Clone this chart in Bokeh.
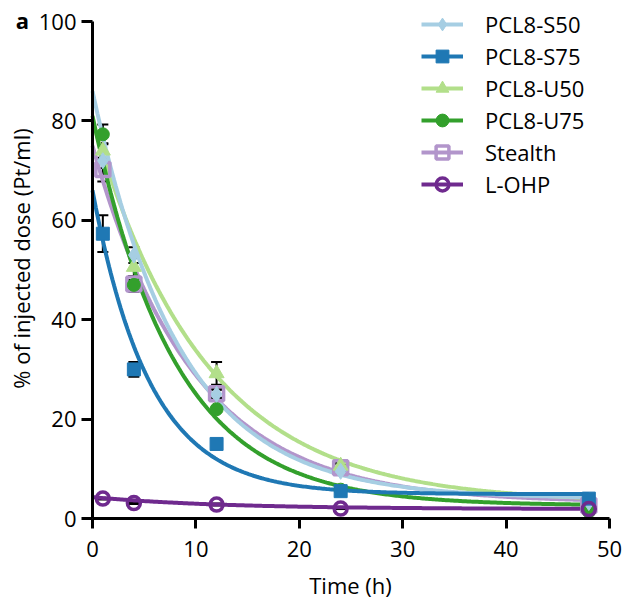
import numpy as np
from bokeh.plotting import figure
from bokeh.models import ColumnDataSource, Whisker, TeeHead, Legend, LegendItem, Label, Range1d, FixedTicker
from bokeh.embed import file_html
from bokeh.resources import INLINE

# ---- data ----
times = [1, 4, 12, 24, 48]
series_names = ["PCL8-S50", "PCL8-S75", "PCL8-U50", "PCL8-U75", "Stealth", "L-OHP"]

s50_mean = [72.0, 53.0, 25.0, 9.5, 3.2]
s50_err = [1.5, 1.6, 1.0, 0.6, 0.3]
s75_mean = [57.3, 30.0, 15.0, 5.5, 4.0]
s75_err = [3.7, 1.5, 0.5, 0.3, 0.3]
u50_mean = [74.0, 50.6, 29.2, 10.6, 3.0]
u50_err = [1.5, 1.8, 2.3, 0.6, 0.3]
u75_mean = [77.3, 47.0, 22.0, 5.8, 1.4]
u75_err = [2.0, 1.0, 0.5, 0.3, 0.2]
stealth_mean = [70.2, 47.2, 25.1, 10.2, 2.6]
stealth_err = [2.4, 1.6, 0.8, 0.8, 0.3]
lohp_mean = [4.0, 3.1, 2.8, 2.0, 1.9]
lohp_err = [0.2, 0.2, 0.2, 0.1, 0.1]

# one-phase exponential decay fit parameters
fit_y0 = [86.0, 66.0, 80.0, 81.0, 75.0, 4.3]
fit_plateau = [4.0, 4.9, 3.2, 2.6, 3.2, 1.9]
fit_k = [0.118, 0.18, 0.092, 0.125, 0.103, 0.08]

x_ticks = [0, 10, 20, 30, 40, 50]
y_ticks = [0, 20, 40, 60, 80, 100]
x_title = "Time (h)"
y_title = "% of injected dose (Pt/ml)"
panel_letter = "a"

means = [s50_mean, s75_mean, u50_mean, u75_mean, stealth_mean, lohp_mean]
errs = [s50_err, s75_err, u50_err, u75_err, stealth_err, lohp_err]

colors = ["#a6cee3", "#1f78b4", "#b2df8a", "#33a02c", "#b295cb", "#6f2a8e"]
markers = ["diamond", "square", "triangle", "circle", "square", "circle"]
sizes = [16, 13, 15, 13, 14, 13]
fills = [True, True, True, True, False, False]

FONT = "Open Sans"

# frame covers the whole canvas; axes are pinned at x=0 / y=0
W, H = 623, 600
X0PX, X50PX = 92.0, 609.0
Y0PX, Y100PX = 518.0, 21.0
sx = (X50PX - X0PX) / 50.0
sy = (Y0PX - Y100PX) / 100.0
x_lo, x_hi = -X0PX / sx, 50 + (W - X50PX) / sx
y_lo, y_hi = -(H - Y0PX) / sy, 100 + Y100PX / sy

p = figure(width=W, height=H, output_backend="svg", toolbar_location=None,
           x_range=Range1d(x_lo, x_hi), y_range=Range1d(y_lo, y_hi),
           min_border=0, min_border_left=0, min_border_right=0, min_border_top=0, min_border_bottom=0)
p.outline_line_color = None
p.xgrid.visible = False
p.ygrid.visible = False
p.background_fill_color = "white"
p.border_fill_color = "white"

for ax in (p.xaxis[0], p.yaxis[0]):
    ax.fixed_location = 0
    ax.axis_line_width = 3
    ax.axis_line_color = "black"
    ax.major_tick_line_width = 3
    ax.major_tick_in = 0
    ax.minor_tick_line_color = None
    ax.major_label_text_font = FONT
    ax.major_label_text_font_size = "22px"
    ax.major_label_text_color = "black"

p.xaxis[0].bounds = (0, 50)
p.yaxis[0].bounds = (0, 100)
p.xaxis[0].major_tick_out = 10
p.yaxis[0].major_tick_out = 11
p.xaxis[0].ticker = FixedTicker(ticks=x_ticks)
p.yaxis[0].ticker = FixedTicker(ticks=y_ticks)
p.xaxis[0].major_label_standoff = 12
p.yaxis[0].major_label_standoff = 5

xs = np.linspace(0, 48, 300)

# error bars first (under the markers)
for m, e in zip(means, errs):
    src = ColumnDataSource(dict(x=times, lo=[a - b for a, b in zip(m, e)], hi=[a + b for a, b in zip(m, e)]))
    w = Whisker(base="x", lower="lo", upper="hi", source=src, line_color="black", line_width=2,
                upper_head=TeeHead(size=11, line_color="black", line_width=2),
                lower_head=TeeHead(size=11, line_color="black", line_width=2))
    w.level = "underlay"
    p.add_layout(w)

draw_order = [4, 2, 3, 0, 1, 5]
line_r = {}
mark_r = {}
for i in draw_order:
    ys = fit_plateau[i] + (fit_y0[i] - fit_plateau[i]) * np.exp(-fit_k[i] * xs)
    line_r[i] = p.line(xs, ys, line_color=colors[i], line_width=4)
for i in draw_order:
    kw = dict(marker=markers[i], size=sizes[i], line_color=colors[i])
    if fills[i]:
        kw.update(fill_color=colors[i], line_width=1)
    else:
        kw.update(fill_color="white", fill_alpha=0.0, line_width=3.5)
    mark_r[i] = p.scatter(times, means[i], **kw)

items = [LegendItem(label=series_names[i], renderers=[line_r[i], mark_r[i]]) for i in range(6)]
legend = Legend(items=items, location=(421, 400), orientation="vertical",
                glyph_width=42, glyph_height=32, spacing=0, label_standoff=22,
                label_text_font=FONT, label_text_font_size="22px", label_text_color="black",
                padding=0, margin=0, border_line_color=None, background_fill_alpha=0.0)
p.add_layout(legend)

# titles as labels
p.add_layout(Label(x=(350 - X0PX) / sx, y=-(584 - Y0PX) / sy, text=x_title, text_font=FONT,
                   text_font_size="22px", text_color="black",
                   text_align="center", text_baseline="middle"))
p.add_layout(Label(x=(20 - X0PX) / sx, y=(Y0PX - 258) / sy, text=y_title, text_font=FONT,
                   text_font_size="22px", text_color="black", angle=np.pi / 2,
                   text_align="center", text_baseline="middle"))
p.add_layout(Label(x=(22 - X0PX) / sx, y=(Y0PX - 19) / sy, text=panel_letter, text_font=FONT,
                   text_font_size="22px", text_font_style="bold", text_color="black",
                   text_align="center", text_baseline="middle"))

open("out.html", "w").write(file_html(p, INLINE))
